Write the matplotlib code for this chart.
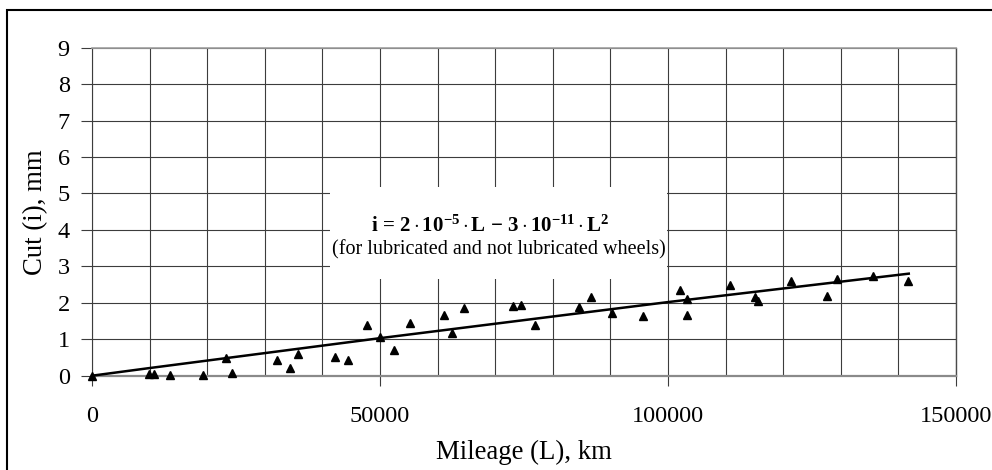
import matplotlib
matplotlib.use("Agg")
import matplotlib.pyplot as plt
from matplotlib.patches import Rectangle

plt.rcParams['font.family'] = ['Liberation Serif', 'DejaVu Serif']
plt.rcParams['mathtext.fontset'] = 'custom'
plt.rcParams['mathtext.rm'] = 'Liberation Serif'
plt.rcParams['mathtext.bf'] = 'Liberation Serif:bold'
plt.rcParams['mathtext.it'] = 'Liberation Serif:italic'

# Measured points: mileage (km) and cut (mm)
mileage = [0, 9900, 10760, 13490, 19220, 23260, 24360, 32060, 34430, 35820,
           42130, 44500, 47690, 50000, 52370, 55270, 61110, 62450, 64530,
           73150, 74420, 76910, 84550, 86580, 90220, 95720, 102080, 103240,
           103350, 110760, 115100, 115680, 121350, 127550, 129400, 135540,
           141720]
cut = [0.0, 0.05, 0.05, 0.03, 0.03, 0.49, 0.08, 0.43, 0.21, 0.60,
       0.50, 0.42, 1.40, 1.05, 0.70, 1.45, 1.66, 1.17, 1.87,
       1.91, 1.93, 1.39, 1.89, 2.15, 1.72, 1.63, 2.36, 2.10,
       1.67, 2.49, 2.17, 2.05, 2.61, 2.20, 2.66, 2.74,
       2.59]

# Trend line
trend_x = [0, 10000, 50000, 100000, 141800]
trend_y = [0.0, 0.21, 1.03, 2.02, 2.80]

x_ticks = [0, 50000, 100000, 150000]
y_ticks = [0, 1, 2, 3, 4, 5, 6, 7, 8, 9]

fig = plt.figure(figsize=(9.92, 4.70), dpi=100)
ax = fig.add_axes([92/992, 1-375.7/470, (956-92)/992, (375.7-47.7)/470])

grid_c = '#3c3c3c'
ax.set_xlim(0, 150000)
ax.set_ylim(0, 9)
ax.set_xticks(x_ticks)
ax.set_xticks(list(range(0, 150001, 10000)), minor=True)
ax.set_yticks(y_ticks)
ax.set_xticklabels([str(v) for v in x_ticks])
ax.grid(True, which='both', axis='x', color=grid_c, lw=0.8, zorder=0)
ax.grid(True, which='major', axis='y', color=grid_c, lw=0.8, zorder=0)
ax.set_axisbelow(True)

ax.tick_params(axis='x', which='major', direction='out', length=7, width=0.8,
               color=grid_c, labelsize=17.5, pad=15)
ax.tick_params(axis='x', which='minor', length=0)
ax.tick_params(axis='y', direction='out', length=8, width=0.8, color=grid_c,
               labelsize=17.5, pad=8)

ax.spines['left'].set_color(grid_c)
ax.spines['left'].set_linewidth(0.8)
ax.spines['right'].set_color('#4a4a4a')
ax.spines['right'].set_linewidth(1.0)
ax.spines['top'].set_color('#a0a0a0')
ax.spines['top'].set_linewidth(1.2)
ax.spines['bottom'].set_color('#8a8a8a')
ax.spines['bottom'].set_linewidth(1.6)

ax.plot(trend_x, trend_y, color='black', lw=1.8, zorder=3, clip_on=False)
ax.plot(mileage, cut, linestyle='none', marker='^', markersize=5.5,
        color='black', zorder=4, clip_on=False)

# White label box over the grid
ax.add_patch(Rectangle((41320, 2.65), 99830-41320, 5.18-2.65,
                       facecolor='white', edgecolor='none', zorder=2))
ax.text(69100, 4.1,
        r'$\mathbf{i\,=\,2\cdot 10^{-5}\cdot L\,-\,3\cdot 10^{-11}\cdot L^{2}}$',
        ha='center', va='center', fontsize=15, zorder=5)
ax.text(70600, 3.45, '(for lubricated and not lubricated wheels)',
        ha='center', va='center', fontsize=14.5, zorder=5)

ax.set_xlabel('Mileage (L), km', fontsize=19.3, labelpad=9)
ax.set_ylabel('Cut (i), mm', fontsize=19.3, labelpad=7)

# Outer frame
fig.patches.append(Rectangle((7/992, -0.2), 2.0, 1.2 - 10/470,
                             transform=fig.transFigure, fill=False,
                             edgecolor='black', lw=1.5))

fig.savefig('out.png', dpi=100)
